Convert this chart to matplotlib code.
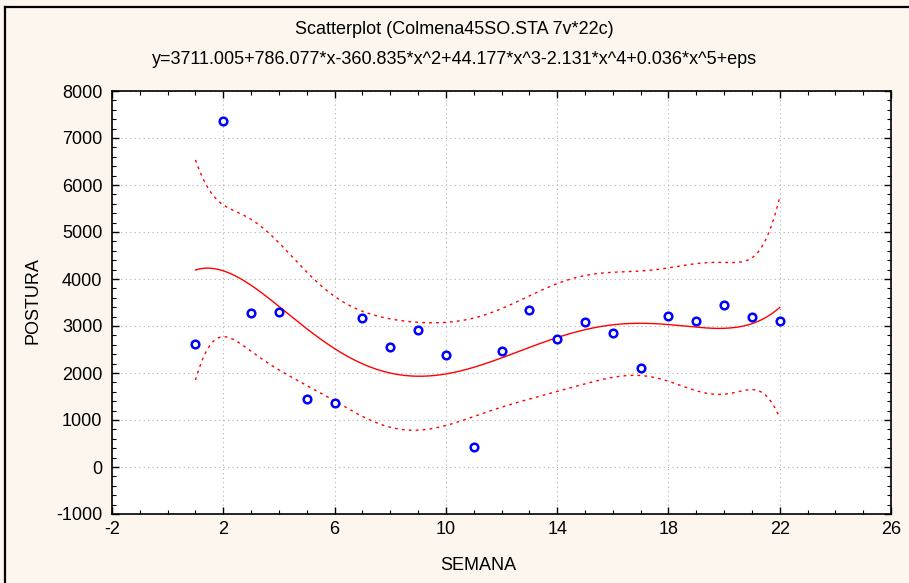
import numpy as np
import matplotlib
matplotlib.use("Agg")
import matplotlib.pyplot as plt
from matplotlib.ticker import MultipleLocator

plt.rcParams["axes.unicode_minus"] = False

# ---- data ----
semana = [1, 2, 3, 4, 5, 6, 7, 8, 9, 10, 11, 12, 13, 14, 15, 16, 17, 18, 19, 20, 21, 22]
postura = [2610, 7370, 3270, 3290, 1450, 1370, 3160, 2550, 2910, 2380, 420, 2460,
           3330, 2720, 3080, 2850, 2100, 3210, 3100, 3440, 3190, 3100]
title1 = "Scatterplot (Colmena45SO.STA 7v*22c)"
title2 = "y=3711.005+786.077*x-360.835*x^2+44.177*x^3-2.131*x^4+0.036*x^5+eps"
xticks = [-2, 2, 6, 10, 14, 18, 22, 26]
yticks = [-1000, 0, 1000, 2000, 3000, 4000, 5000, 6000, 7000, 8000]
degree = 5
t_crit = 2.1199  # t(0.975, df=16)

x = np.array(semana, float)
y = np.array(postura, float)

# polynomial fit with 95% confidence band of the mean
xc = x.mean()
X = np.vander(x - xc, degree + 1, increasing=True)
beta, res, rank, sv = np.linalg.lstsq(X, y, rcond=None)
resid = y - X @ beta
dof = len(x) - (degree + 1)
s2 = resid @ resid / dof
XtXi = np.linalg.inv(X.T @ X)
xs = np.linspace(x.min(), x.max(), 400)
Xs = np.vander(xs - xc, degree + 1, increasing=True)
ys = Xs @ beta
se = np.sqrt(s2 * np.einsum('ij,jk,ik->i', Xs, XtXi, Xs))
lo = ys - t_crit * se
hi = ys + t_crit * se

bg = "#fdf6ef"
fig = plt.figure(figsize=(9.09, 5.83), dpi=100, facecolor=bg)
ax = fig.add_axes([112/909, 1-514/583, (891-112)/909, (514-91)/583])
ax.set_facecolor("white")

ax.plot(xs, ys, color="#ff0000", lw=1.0, zorder=3)
ax.plot(xs, lo, color="#ff0000", lw=1.0, ls=(0, (2, 3)), zorder=3)
ax.plot(xs, hi, color="#ff0000", lw=1.0, ls=(0, (2, 3)), zorder=3)
ax.plot(x, y, ls="none", marker="o", ms=5.5, mfc="white", mec="#0000ff", mew=1.8, zorder=4)

ax.set_xlim(-2, 26)
ax.set_ylim(-1000, 8000)
ax.set_xticks(xticks)
ax.set_yticks(yticks)
ax.xaxis.set_minor_locator(MultipleLocator(1))
ax.yaxis.set_minor_locator(MultipleLocator(200))
ax.tick_params(which="both", direction="in", top=True, right=True, color="black")
ax.tick_params(which="major", length=5, width=1, labelsize=13)
ax.tick_params(which="minor", length=3, width=0.8)
ax.tick_params(axis="y", which="major", pad=7)
ax.tick_params(axis="x", which="major", pad=5)
ax.grid(True, which="major", ls=(0, (1, 3)), color="#b0b0b0", lw=0.8)
for sp in ax.spines.values():
    sp.set_linewidth(1.2)
    sp.set_color("black")

fam = ["Liberation Sans", "DejaVu Sans"]
for lab in ax.get_xticklabels() + ax.get_yticklabels():
    lab.set_family(fam)

fig.text(0.5, 1-30/583, title1, ha="center", va="center", fontsize=13, family=fam)
fig.text(0.5, 1-60/583, title2, ha="center", va="center", fontsize=13, family=fam)
fig.text(478/909, 1-566/583, "SEMANA", ha="center", va="center", fontsize=13, family=fam)
fig.text(33/909, 1-301/583, "POSTURA", ha="center", va="center", rotation=90, fontsize=13,
         family=fam)

# outer frame (left and top edges visible)
fig.add_artist(plt.Line2D([5/909, 5/909], [0, 1-7/583], transform=fig.transFigure, color="black", lw=1.6))
fig.add_artist(plt.Line2D([5/909, 1], [1-7/583, 1-7/583], transform=fig.transFigure, color="black", lw=1.6))

fig.savefig("out.png", dpi=100, facecolor=bg)
